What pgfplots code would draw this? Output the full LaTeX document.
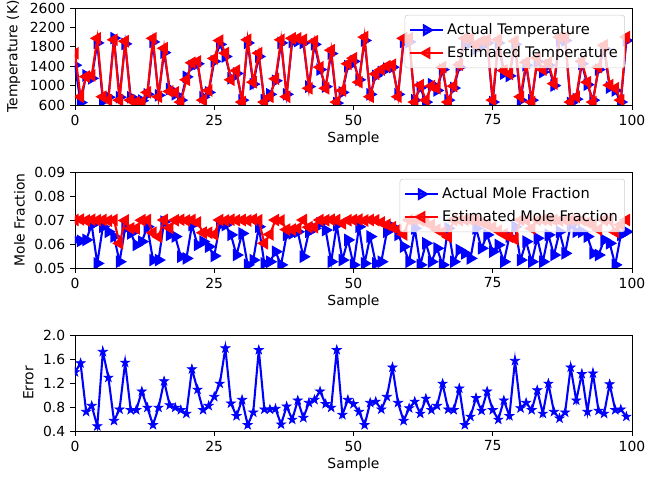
\documentclass[border=0pt]{standalone}
\usepackage{fontspec}
\setmainfont{DejaVu Sans}
\usepackage{pgfplots}
\usepackage{pgfplotstable}
\pgfplotsset{compat=1.18}
\pgfdeclareplotmark{fstar}{%
  \pgfpathmoveto{\pgfpoint{0pt}{\pgfplotmarksize}}%
  \pgfpathlineto{\pgfpoint{-0.2245\pgfplotmarksize}{0.309\pgfplotmarksize}}%
  \pgfpathlineto{\pgfpoint{-0.951\pgfplotmarksize}{0.309\pgfplotmarksize}}%
  \pgfpathlineto{\pgfpoint{-0.363\pgfplotmarksize}{-0.118\pgfplotmarksize}}%
  \pgfpathlineto{\pgfpoint{-0.588\pgfplotmarksize}{-0.809\pgfplotmarksize}}%
  \pgfpathlineto{\pgfpoint{0pt}{-0.382\pgfplotmarksize}}%
  \pgfpathlineto{\pgfpoint{0.588\pgfplotmarksize}{-0.809\pgfplotmarksize}}%
  \pgfpathlineto{\pgfpoint{0.363\pgfplotmarksize}{-0.118\pgfplotmarksize}}%
  \pgfpathlineto{\pgfpoint{0.951\pgfplotmarksize}{0.309\pgfplotmarksize}}%
  \pgfpathlineto{\pgfpoint{0.2245\pgfplotmarksize}{0.309\pgfplotmarksize}}%
  \pgfpathclose
  \pgfusepathqfillstroke}

\pgfplotstableread[row sep=\\]{y\\
1420\\650\\1210\\1150\\1880\\680\\760\\1980\\760\\1860\\760\\700\\690\\820\\1900\\800\\1680\\930\\820\\700\\
1180\\1400\\1450\\760\\860\\1500\\1850\\1600\\1150\\1250\\700\\1880\\1030\\1600\\700\\820\\1100\\1880\\820\\1900\\
1920\\1880\\980\\1850\\1330\\980\\1660\\640\\860\\1400\\1500\\1120\\1930\\820\\1200\\1280\\1350\\1380\\820\\1900\\
1900\\700\\960\\660\\1030\\900\\1330\\700\\950\\1380\\1900\\1880\\1760\\1850\\1880\\660\\1880\\1250\\1200\\1850\\
700\\1420\\700\\1500\\1280\\1420\\1000\\1930\\1930\\640\\720\\1450\\1020\\700\\1330\\1760\\960\\900\\660\\1930\\
}\Tact
\pgfplotstableread[row sep=\\]{y\\
1665\\770\\1185\\1210\\1975\\770\\700\\1945\\700\\1915\\700\\660\\660\\860\\1975\\770\\1770\\880\\860\\660\\
1120\\1470\\1500\\700\\900\\1560\\1930\\1670\\1120\\1310\\660\\1945\\1070\\1670\\660\\770\\1140\\1945\\770\\1975\\
1975\\1945\\945\\1915\\1380\\945\\1730\\660\\900\\1450\\1565\\1070\\2000\\770\\1240\\1330\\1400\\1430\\770\\1975\\
1975\\660\\1010\\700\\990\\945\\1380\\660\\990\\1430\\1975\\1975\\1830\\1915\\1945\\700\\1945\\1310\\1240\\1915\\
770\\1480\\660\\1570\\1330\\1480\\1040\\2000\\2000\\660\\770\\1500\\1070\\660\\1380\\1830\\1010\\945\\700\\2000\\
}\Test
\pgfplotstableread[row sep=\\]{y\\
0.0617\\0.0613\\0.0617\\0.0679\\0.0519\\0.0672\\0.0651\\0.0631\\0.0526\\0.0665\\
0.0644\\0.0596\\0.0610\\0.0672\\0.0533\\0.0533\\0.0693\\0.0638\\0.0631\\0.0547\\
0.0540\\0.0679\\0.0596\\0.0610\\0.0589\\0.0550\\0.0679\\0.0679\\0.0638\\0.0554\\
0.0644\\0.0513\\0.0533\\0.0672\\0.0519\\0.0526\\0.0568\\0.0513\\0.0638\\0.0644\\
0.0651\\0.0547\\0.0651\\0.0665\\0.0686\\0.0658\\0.0526\\0.0679\\0.0533\\0.0617\\
0.0513\\0.0672\\0.0519\\0.0631\\0.0519\\0.0526\\0.0651\\0.0672\\0.0638\\0.0589\\
0.0526\\0.0665\\0.0513\\0.0603\\0.0526\\0.0582\\0.0513\\0.0665\\0.0526\\0.0575\\
0.0561\\0.0540\\0.0665\\0.0582\\0.0638\\0.0568\\0.0596\\0.0526\\0.0631\\0.0672\\
0.0533\\0.0610\\0.0526\\0.0624\\0.0526\\0.0638\\0.0554\\0.0651\\0.0561\\0.0679\\
0.0651\\0.0651\\0.0631\\0.0561\\0.0554\\0.0617\\0.0603\\0.0513\\0.0638\\0.0651\\
}\Xact
\pgfplotstableread[row sep=\\]{y\\
0.0700\\0.0702\\0.0698\\0.0701\\0.0699\\0.0700\\0.0697\\0.0700\\0.0603\\0.0698\\
0.0665\\0.0665\\0.0699\\0.0700\\0.0647\\0.0630\\0.0700\\0.0667\\0.0699\\0.0701\\
0.0698\\0.0700\\0.0690\\0.0647\\0.0647\\0.0640\\0.0700\\0.0698\\0.0701\\0.0699\\
0.0700\\0.0698\\0.0702\\0.0699\\0.0603\\0.0640\\0.0700\\0.0698\\0.0660\\0.0660\\
0.0665\\0.0700\\0.0670\\0.0670\\0.0700\\0.0699\\0.0701\\0.0700\\0.0686\\0.0699\\
0.0700\\0.0702\\0.0698\\0.0700\\0.0699\\0.0690\\0.0680\\0.0670\\0.0660\\0.0640\\
0.0700\\0.0701\\0.0699\\0.0690\\0.0680\\0.0660\\0.0650\\0.0630\\0.0700\\0.0699\\
0.0701\\0.0700\\0.0698\\0.0690\\0.0680\\0.0670\\0.0655\\0.0640\\0.0630\\0.0620\\
0.0700\\0.0699\\0.0665\\0.0700\\0.0701\\0.0699\\0.0700\\0.0698\\0.0700\\0.0699\\
0.0701\\0.0700\\0.0690\\0.0680\\0.0660\\0.0700\\0.0699\\0.0650\\0.0680\\0.0700\\
}\Xest
\pgfplotstableread[row sep=\\]{y\\
1.38\\1.53\\0.72\\0.82\\0.48\\1.72\\1.29\\0.57\\0.76\\1.54\\
0.75\\0.75\\1.06\\0.79\\0.50\\0.79\\1.23\\0.83\\0.79\\0.75\\
0.69\\1.43\\1.09\\0.75\\0.82\\0.97\\1.19\\1.78\\0.86\\0.65\\
0.92\\0.50\\0.71\\1.75\\0.76\\0.76\\0.77\\0.51\\0.81\\0.59\\
0.91\\0.62\\0.87\\0.92\\1.06\\0.85\\0.79\\1.75\\0.67\\0.92\\
0.85\\0.72\\0.50\\0.87\\0.89\\0.76\\0.97\\1.46\\0.87\\0.57\\
0.78\\0.89\\0.69\\0.94\\0.75\\0.82\\1.19\\0.76\\0.75\\1.11\\
0.50\\0.64\\0.95\\0.74\\1.06\\0.75\\0.59\\0.91\\0.65\\1.57\\
0.78\\0.87\\0.75\\1.08\\0.69\\1.19\\0.72\\0.61\\0.71\\1.46\\
0.91\\1.35\\0.72\\1.36\\0.74\\0.69\\1.18\\0.75\\0.76\\0.64\\
}\Err

\pgfplotsset{
  myax/.style={
    scale only axis, width=401pt,
    xmin=0, xmax=100, xtick={0,25,50,75,100},
    xlabel={Sample},
    tick align=outside, xtick pos=left, ytick pos=left,
    major tick length=3.5pt,
    axis line style={line width=0.6pt},
    every tick/.style={black, line width=0.6pt},
    /pgf/number format/assume math mode=true,
    /pgf/number format/1000 sep={},
    clip marker paths=true,
    tick label style={font=\fontsize{10}{12}\selectfont},
    label style={font=\fontsize{10}{12}\selectfont},
    xlabel style={yshift=2pt},
    legend cell align=left,
    legend style={at={(1,1)}, anchor=north east, xshift=-5pt, yshift=-5pt,
      draw=black!20, rounded corners=2pt, fill=white, fill opacity=0.8, text opacity=1,
      font=\fontsize{10.5}{12}\selectfont, row sep=3pt, inner xsep=3pt, inner ysep=4pt},
    legend image code/.code={\draw[mark repeat=2,mark phase=2] plot coordinates {(0cm,0cm) (0.42cm,0cm) (0.84cm,0cm)};},
  },
  act/.style={blue, line width=1.5pt, mark=triangle*, mark size=3.8pt, mark options={rotate=-90, solid, fill=blue}},
  est/.style={red, line width=1.5pt, mark=triangle*, mark size=3.8pt, mark options={rotate=90, solid, fill=red}},
}

\begin{document}
\begin{tikzpicture}
\path[use as bounding box] (0,0) rectangle (464.4pt,-344.16pt);
\begin{axis}[myax, at={(54pt,-75.6pt)}, anchor=south west, height=69.84pt,
  ymin=600, ymax=2600, ytick={600,1000,1400,1800,2200,2600},
  ylabel={Temperature (K)}]
\addplot[act] table[x expr=\coordindex, y=y] {\Tact};
\addlegendentry{Actual Temperature}
\addplot[est] table[x expr=\coordindex, y=y] {\Test};
\addlegendentry{Estimated Temperature}
\end{axis}
\begin{axis}[myax, at={(54pt,-192.96pt)}, anchor=south west, height=69.12pt,
  ymin=0.05, ymax=0.09, ytick={0.05,0.06,0.07,0.08,0.09},
  yticklabel style={/pgf/number format/.cd, fixed, fixed zerofill, precision=2},
  scaled y ticks=false,
  ylabel={Mole Fraction}]
\addplot[act] table[x expr=\coordindex, y=y] {\Xact};
\addlegendentry{Actual Mole Fraction}
\addplot[est] table[x expr=\coordindex, y=y] {\Xest};
\addlegendentry{Estimated Mole Fraction}
\end{axis}
\begin{axis}[myax, at={(54pt,-310.32pt)}, anchor=south west, height=69.12pt,
  ymin=0.4, ymax=2.0, ytick={0.4,0.8,1.2,1.6,2.0},
  yticklabel style={/pgf/number format/.cd, fixed, fixed zerofill, precision=1},
  ylabel={Error}]
\addplot[blue, line width=1.5pt, mark=fstar, mark size=3.4pt, mark options={solid, fill=blue, line width=0.5pt}] table[x expr=\coordindex, y=y] {\Err};
\end{axis}
\end{tikzpicture}
\end{document}
